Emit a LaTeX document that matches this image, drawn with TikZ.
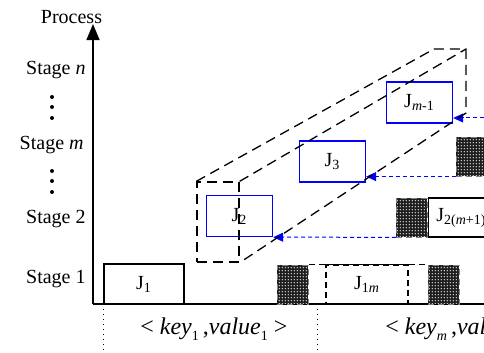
\documentclass[tikz,border=0pt]{standalone}
\usepackage{fontspec}
\setmainfont{Liberation Serif}
\usepackage{tikz}
\usetikzlibrary{arrows.meta, patterns, positioning}
\pgfdeclarepatternformonly{finedots}{\pgfqpoint{0pt}{0pt}}{\pgfqpoint{1.6pt}{1.6pt}}{\pgfqpoint{1.6pt}{1.6pt}}{%
  \pgfpathcircle{\pgfqpoint{0.8pt}{0.8pt}}{0.38pt}\pgfusepath{fill}}
\definecolor{taskblue}{HTML}{0000FF}
\definecolor{blockgray}{HTML}{1E1E1E}
\newcommand{\lowsub}[1]{\raisebox{-0.5ex}{\fontsize{7}{8}\selectfont #1}}

\begin{document}
\begin{tikzpicture}[
    x=0.5pt, y=-0.5pt,
    every node/.style={font=\fontsize{10}{12}\selectfont},
    stage/.style={anchor=east, inner sep=0pt},
    job/.style={rectangle, draw=black, line width=0.7pt, minimum width=40pt,
               minimum height=20pt, inner sep=0pt},
    task/.style={rectangle, draw=taskblue, line width=0.7pt, minimum width=33pt,
                minimum height=20.5pt, inner sep=0pt},
    block/.style={rectangle, draw=gray, densely dashed, line width=0.3pt,
                 preaction={fill=blockgray}, pattern=finedots, pattern color=white,
                 minimum width=15.5pt, minimum height=19.5pt, inner sep=0pt},
    idle/.style={draw=black, line width=0.6pt, dash pattern=on 3pt off 2pt},
    batch/.style={draw=black, line width=0.65pt, dash pattern=on 5pt off 3pt},
    flow/.style={-{Triangle[length=5pt, width=4.5pt]}, draw=taskblue,
                line width=0.5pt, dash pattern=on 2pt off 1.5pt},
    axis/.style={-{Triangle[length=8pt, width=6.5pt]}, line width=0.75pt},
    sep/.style={dotted, line width=0.5pt},
    pair/.style={anchor=west, inner sep=0pt, font=\fontsize{12}{14}\selectfont}
]
\useasboundingbox (0,0) rectangle (484,353);
\clip (0,0) rectangle (484,353);

% Axes
\coordinate (origin) at (93,304);
\coordinate (xend) at (484,304);
\node[inner sep=0pt] (process) at (71.5,17) {Process};
\draw[axis] (origin) -- (origin |- process.south);
\draw[line width=0.75pt] (origin) -- (xend);

% Stages
\node[stage] (s1) at (86,279) {Stage 1};
\node[stage] (s2) at (86,219) {Stage 2};
\node[stage] (sm) at (84,145) {Stage \textit{m}};
\node[stage] (sn) at (86,70) {Stage \textit{n}};
\foreach \y in {97,107,118,171,181,192}
    \fill (52,\y) circle (1pt);

% Stage 1 jobs
\node[job] (j1) at (144,284) {J\textsubscript{1}};
\node[block] (b11) at (293,284.5) {};
\node[job, idle, minimum width=41pt, minimum height=19.5pt] (j1m) at (367,284.5)
      {J\textsubscript{1\textit{m}}};
\node[block] (b12) at (443.5,284.5) {};
\draw[idle] (b11.north east) -- (b12.north west);

% Stage 2 jobs
\node[task] (j2) at (239.5,216) {J\textsubscript{2}};
\node[block] (b21) at (412,217.5) {};
\node[job, anchor=west, minimum width=33pt, minimum height=19.5pt] (j2m) at (b21.east)
      {J\textsubscript{2(\textit{m}+1)}};

% Higher stages
\node[task] (j3) at (332.5,161.5) {J\textsubscript{3}};
\node[block, anchor=north west] (b31) at (456,137) {};
\node[task] (jm1) at (419.5,102.5) {J\textsubscript{\textit{m}-1}};
\coordinate (bm1) at (484,118);

% Data flow between stages
\draw[flow] (b21.south west) -- (j2.south east);
\draw[flow] (b31.south west) -- (b31.south west -| j3.east);
\draw[flow] (bm1) -- (bm1 -| jm1.east);

% Pipeline box
\node[batch, rectangle, minimum width=21pt, minimum height=40pt, inner sep=0pt]
      (front) at (218,222) {};
\coordinate (backnw) at (434,49);
\coordinate (backne) at (466,49);
\coordinate (backse) at (466,113);
\draw[batch] (front.north west) -- (backnw) -- (backne) -- (backse) -- (front.south east);
\draw[batch] (front.north east) -- (backne);

% Key ranges
\coordinate (cut1) at (104,304);
\coordinate (cut2) at (318,304);
\draw[sep] (cut1) -- ++(0,49);
\draw[sep] (cut2) -- ++(0,49);
\node[pair] (kv1) at (140,329)
      {<~\textit{key}\lowsub{1}\,,\textit{value}\lowsub{1}~>};
\node[pair] (kvm) at (385,329)
      {<~\textit{key}\lowsub{\textit{m}}\,,\textit{value}\lowsub{\textit{m}}~>};

\end{tikzpicture}
\end{document}
